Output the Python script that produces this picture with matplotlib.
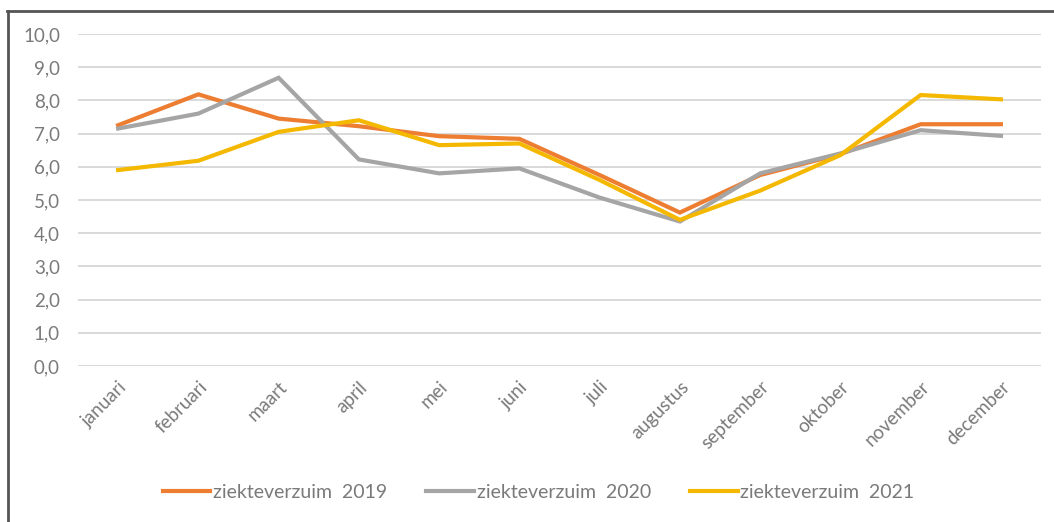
import matplotlib
matplotlib.use("Agg")
import matplotlib.pyplot as plt
from matplotlib.lines import Line2D
from matplotlib.ticker import FuncFormatter

months = ["januari", "februari", "maart", "april", "mei", "juni", "juli",
          "augustus", "september", "oktober", "november", "december"]
verzuim_2019 = [7.25, 8.18, 7.45, 7.22, 6.92, 6.84, 5.75, 4.62, 5.75, 6.38, 7.28, 7.28]
verzuim_2020 = [7.15, 7.6, 8.68, 6.22, 5.8, 5.95, 5.07, 4.35, 5.8, 6.4, 7.1, 6.93]
verzuim_2021 = [5.9, 6.18, 7.05, 7.4, 6.65, 6.7, 5.6, 4.4, 5.28, 6.35, 8.16, 8.03]
series_labels = ["ziekteverzuim  2019", "ziekteverzuim  2020", "ziekteverzuim  2021"]
yticks = [0, 1, 2, 3, 4, 5, 6, 7, 8, 9, 10]

colors = ["#ED7D31", "#A5A5A5", "#F5B800"]
text_color = "#7a7a7a"

plt.rcParams['font.family'] = ['Lato', 'DejaVu Sans']

fig = plt.figure(figsize=(10.54, 5.22), dpi=100)
ax = fig.add_axes([0.074, 0.299, 0.9137, 0.636])

x = list(range(len(months)))
for vals, c, lab in zip([verzuim_2019, verzuim_2020, verzuim_2021], colors, series_labels):
    ax.plot(x, vals, color=c, lw=3.0, label=lab, solid_joinstyle='miter', zorder=3)

ax.set_xlim(-0.5, len(months) - 0.5)
ax.set_ylim(0, 10)
ax.set_yticks(yticks)
ax.yaxis.set_major_formatter(FuncFormatter(lambda v, p: f"{v:.1f}".replace(".", ",")))
ax.grid(axis='y', color='#d9d9d9', lw=1.4, zorder=0)
ax.set_axisbelow(True)
for s in ax.spines.values():
    s.set_visible(False)
ax.tick_params(axis='both', length=0, colors=text_color)
ax.tick_params(axis='y', pad=13, labelsize=13.5)
ax.set_xticks(x)
ax.set_xticklabels(months, rotation=45, ha='right', rotation_mode='anchor')
ax.tick_params(axis='x', pad=9, labelsize=13.5)

leg = fig.legend(loc='center', bbox_to_anchor=(0.511, 0.057), ncol=3, frameon=False,
                 fontsize=14, handlelength=2.45, handletextpad=0.15, columnspacing=2.0)
for t in leg.get_texts():
    t.set_color(text_color)

# outer frame lines (top and left)
fig.add_artist(Line2D([0.007, 1.0], [0.979, 0.979], transform=fig.transFigure,
                      color='#555555', lw=2))
fig.add_artist(Line2D([0.0075, 0.0075], [0.0, 0.979], transform=fig.transFigure,
                      color='#555555', lw=2))

fig.savefig("out.png", dpi=100)
